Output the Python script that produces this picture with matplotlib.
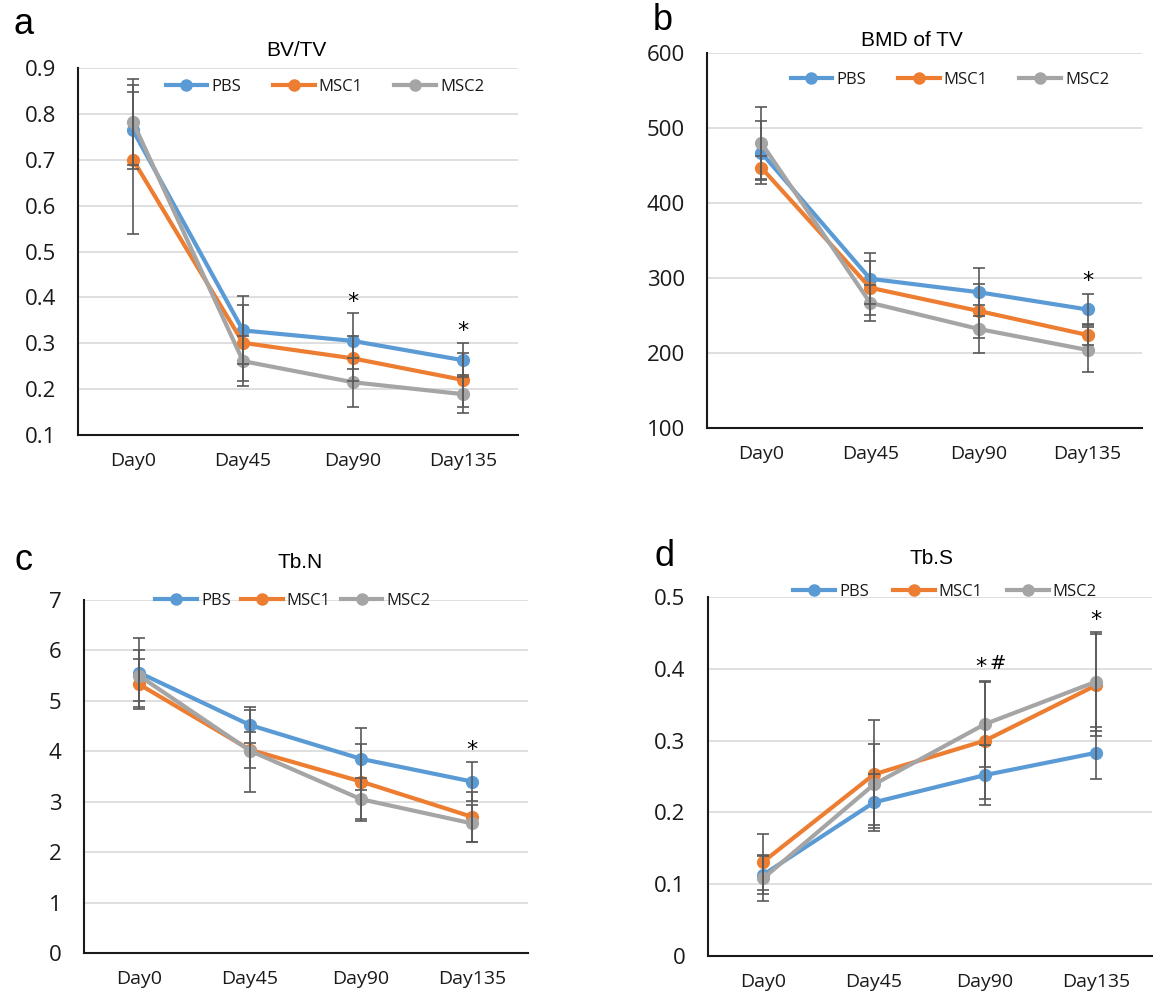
import matplotlib
matplotlib.use("Agg")
import matplotlib.pyplot as plt
from matplotlib.lines import Line2D
import matplotlib.transforms as mtrans

days = ['Day0', 'Day45', 'Day90', 'Day135']
series_names = ['PBS', 'MSC1', 'MSC2']

# a: BV/TV
bv_pbs = [0.764, 0.328, 0.305, 0.263]
bv_pbs_err = [0.084, 0.074, 0.061, 0.037]
bv_msc1 = [0.700, 0.301, 0.267, 0.220]
bv_msc1_err = [0.162, 0.083, 0.049, 0.058]
bv_msc2 = [0.782, 0.261, 0.215, 0.189]
bv_msc2_err = [0.093, 0.054, 0.053, 0.042]

# b: BMD of TV
bmd_pbs = [467, 299, 281, 258]
bmd_pbs_err = [42, 34, 32, 21]
bmd_msc1 = [447, 287, 256, 224]
bmd_msc1_err = [16, 36, 36, 14]
bmd_msc2 = [480, 267, 232, 204]
bmd_msc2_err = [48, 24, 32, 30]

# c: Tb.N
tbn_pbs = [5.56, 4.52, 3.85, 3.40]
tbn_pbs_err = [0.69, 0.35, 0.61, 0.38]
tbn_msc1 = [5.33, 4.03, 3.40, 2.70]
tbn_msc1_err = [0.50, 0.36, 0.75, 0.50]
tbn_msc2 = [5.50, 4.01, 3.05, 2.57]
tbn_msc2_err = [0.51, 0.81, 0.43, 0.37]

# d: Tb.S
tbs_pbs = [0.113, 0.214, 0.252, 0.283]
tbs_pbs_err = [0.026, 0.040, 0.042, 0.036]
tbs_msc1 = [0.131, 0.253, 0.300, 0.377]
tbs_msc1_err = [0.039, 0.075, 0.082, 0.071]
tbs_msc2 = [0.108, 0.239, 0.323, 0.382]
tbs_msc2_err = [0.032, 0.056, 0.060, 0.069]

titles = ['BV/TV', 'BMD of TV', 'Tb.N', 'Tb.S']
letters = ['a', 'b', 'c', 'd']

# significance marks: (category index, y value, text, x offset px)
marks_a = [(2, 0.391, '*', 0), (3, 0.326, '*', 0)]
marks_b = [(3, 296, '*', 0)]
marks_c = [(3, 4.03, '*', 0)]
marks_d = [(2, 0.402, '*', -4), (2, 0.407, '#', 13), (3, 0.468, '*', 0)]

colors = ['#5B9BD5', '#ED7D31', '#A5A5A5']
W, H = 1158, 1000

fig = plt.figure(figsize=(W / 100, H / 100), dpi=100)

TICK_FONT = 'Open Sans'
TITLE_FONT = 'Liberation Sans'

panels = [
    dict(data=[(bv_pbs, bv_pbs_err), (bv_msc1, bv_msc1_err), (bv_msc2, bv_msc2_err)],
         rect=(78, 68, 518, 435), ylim=(0.1, 0.9), yticks=[0.1, 0.2, 0.3, 0.4, 0.5, 0.6, 0.7, 0.8, 0.9],
         fmt='{:.1f}', title_xy=(296, 50), letter_xy=(24, 25), marks=marks_a,
         leg=(325, 87, 1.9)),
    dict(data=[(bmd_pbs, bmd_pbs_err), (bmd_msc1, bmd_msc1_err), (bmd_msc2, bmd_msc2_err)],
         rect=(707, 53, 1142, 428), ylim=(100, 600), yticks=[100, 200, 300, 400, 500, 600],
         fmt='{:.0f}', title_xy=(912, 40), letter_xy=(663, 20), marks=marks_b,
         leg=(950, 80, 1.9)),
    dict(data=[(tbn_pbs, tbn_pbs_err), (tbn_msc1, tbn_msc1_err), (tbn_msc2, tbn_msc2_err)],
         rect=(83.5, 600, 527.5, 953), ylim=(0, 7), yticks=[0, 1, 2, 3, 4, 5, 6, 7],
         fmt='{:.0f}', title_xy=(300, 562), letter_xy=(23, 560), marks=marks_c,
         leg=(293, 601, 0.6)),
    dict(data=[(tbs_pbs, tbs_pbs_err), (tbs_msc1, tbs_msc1_err), (tbs_msc2, tbs_msc2_err)],
         rect=(707.5, 597, 1151.5, 956), ylim=(0, 0.5), yticks=[0, 0.1, 0.2, 0.3, 0.4, 0.5],
         fmt='{:g}', title_xy=(931, 558), letter_xy=(665, 557), marks=marks_d,
         leg=(945, 592, 1.45)),
]

for i, p in enumerate(panels):
    l, t, r, b = p['rect']
    ax = fig.add_axes([l / W, 1 - b / H, (r - l) / W, (b - t) / H])
    x = list(range(len(days)))
    for (vals, errs), c in zip(p['data'], colors):
        ax.plot(x, vals, color=c, lw=3, marker='o', ms=8.5, zorder=3, solid_capstyle='round')
    for (vals, errs), c in zip(p['data'], colors):
        ax.errorbar(x, vals, yerr=errs, fmt='none', ecolor='#595959', elinewidth=1.2,
                    capsize=4.5, capthick=1.2, zorder=4)
    ax.set_xlim(-0.5, len(days) - 0.5)
    ax.set_ylim(*p['ylim'])
    ax.set_yticks(p['yticks'])
    ax.set_yticklabels([p['fmt'].format(v) for v in p['yticks']], fontsize=16, family=TICK_FONT,
                       color='#1a1a1a')
    ax.set_xticks(x)
    ax.set_xticklabels(days, fontsize=14, family=TICK_FONT, color='#1a1a1a')
    ax.tick_params(axis='both', length=0)
    ax.tick_params(axis='y', pad=16)
    ax.tick_params(axis='x', pad=12)
    ax.yaxis.grid(True, color='#D9D9D9', lw=1.2, zorder=0)
    ax.set_axisbelow(True)
    for s in ['top', 'right']:
        ax.spines[s].set_visible(False)
    for s in ['left', 'bottom']:
        ax.spines[s].set_color('#1a1a1a')
        ax.spines[s].set_linewidth(1.5)
    for (xi, yv, txt, dx) in p['marks']:
        off = mtrans.offset_copy(ax.transData, fig=fig, x=dx * 0.72, y=0, units='points')
        if txt == '*':
            ax.text(xi, yv, txt, transform=off, ha='center', va='center', fontsize=16,
                    family='DejaVu Sans', zorder=6)
        else:
            ax.text(xi, yv, txt, transform=off, ha='center', va='center', fontsize=14,
                    family='DejaVu Sans', zorder=6)
    tx, ty = p['title_xy']
    fig.text(tx / W, 1 - ty / H, titles[i], ha='center', va='center', fontsize=15, family=TITLE_FONT)
    lx, ly = p['letter_xy']
    fig.text(lx / W, 1 - ly / H, letters[i], ha='center', va='center', fontsize=26, family=TITLE_FONT)
    gx, gy, cs = p['leg']
    handles = [Line2D([], [], color=c, lw=3, marker='o', ms=8) for c in colors]
    leg = ax.legend(handles, series_names, loc='center', bbox_to_anchor=(gx / W, 1 - gy / H),
                    bbox_transform=fig.transFigure, ncol=3, frameon=False, handlelength=2.5,
                    handletextpad=0.25, columnspacing=cs, borderpad=0,
                    prop={'family': 'Open Sans', 'size': 12})
    for tt in leg.get_texts():
        tt.set_color('#1a1a1a')

fig.savefig('out.png', dpi=100)
